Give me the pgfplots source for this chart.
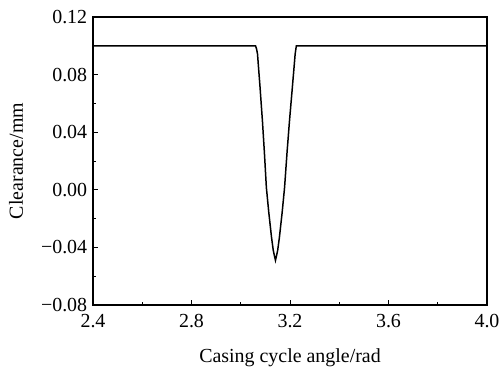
\documentclass[border=0pt]{standalone}
\usepackage{pgfplots}
\pgfplotsset{compat=1.18}
\usepackage{fontspec}
\setmainfont{Liberation Serif}
\begin{document}
\fontsize{20}{23}\selectfont
\begin{tikzpicture}
\useasboundingbox (-93bp,-64bp) rectangle (406bp,305bp);
\begin{axis}[
  scale only axis,
  width=394bp, height=288bp,
  xmin=2.4, xmax=4.0, ymin=-0.08, ymax=0.12,
  xtick={2.4,2.8,3.2,3.6,4.0},
  xticklabels={2.4,2.8,3.2,3.6,4.0},
  ytick={-0.08,-0.04,0,0.04,0.08,0.12},
  yticklabels={−0.08,−0.04,0.00,0.04,0.08,0.12},
  minor tick num=1,
  tick pos=left,
  tick align=inside,
  major tick length=5bp,
  minor tick length=3bp,
  axis line style={line width=1.5pt},
  every tick/.style={line width=1pt, black},
  tick label style={font=\fontsize{20}{23}\selectfont},
  xticklabel style={yshift=-2bp},
  yticklabel style={xshift=1bp},
  label style={font=\fontsize{20}{23}\selectfont},
  xlabel={Casing cycle angle/rad},
  ylabel={Clearance/mm},
  xlabel style={at={(axis description cs:0.5,-0.183)}, anchor=center},
  ylabel style={at={(axis description cs:-0.195,0.5)}, anchor=center},
]
\addplot[black, line width=1.5pt] coordinates {
(2.4,0.100) (3.060,0.100) (3.064,0.098) (3.068,0.0944) (3.078,0.072) (3.088,0.048)
(3.096,0.026) (3.104,0.0017) (3.114,-0.016) (3.125,-0.033) (3.132,-0.042) (3.137,-0.046) (3.141,-0.049)
(3.145,-0.046) (3.150,-0.042) (3.157,-0.033) (3.168,-0.016) (3.178,0.0017) (3.188,0.026) (3.198,0.048)
(3.210,0.072) (3.221,0.0944) (3.224,0.098) (3.226,0.100) (4.0,0.100)
};
\end{axis}
\end{tikzpicture}
\end{document}
